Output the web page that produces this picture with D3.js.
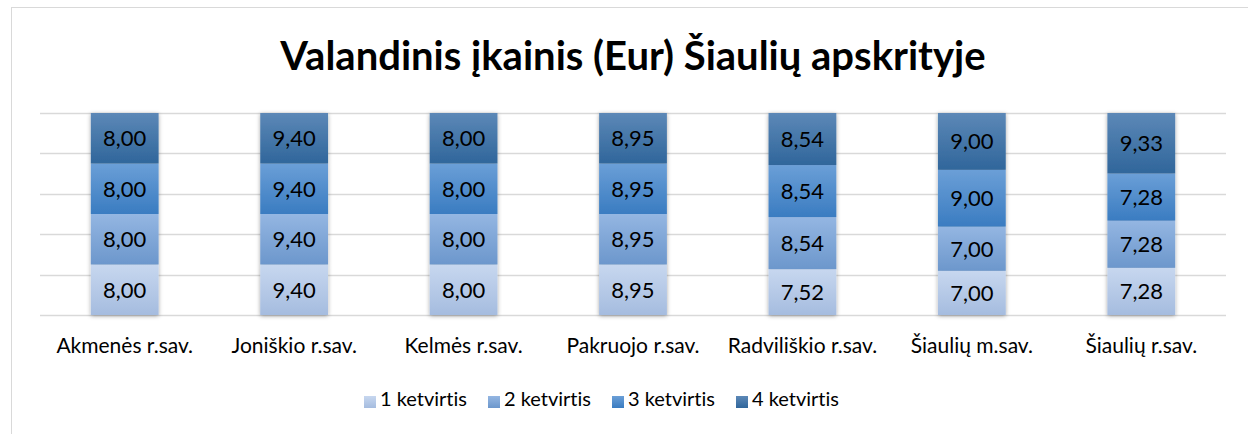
<!DOCTYPE html>
<html>
<head>
<meta charset="utf-8">
<script src="https://cdn.jsdelivr.net/npm/d3@7"></script>
<style>
  body { margin: 0; background: #fff; }
  svg { display: block; font-family: Lato, "Open Sans", sans-serif; font-variant-ligatures: none; }
</style>
</head>
<body>
<div id="chart"></div>
<script>
const title = "Valandinis įkainis (Eur) Šiaulių apskrityje";
const categories = ["Akmenės r.sav.", "Joniškio r.sav.", "Kelmės r.sav.", "Pakruojo r.sav.", "Radviliškio r.sav.", "Šiaulių m.sav.", "Šiaulių r.sav."];
const seriesNames = ["1 ketvirtis", "2 ketvirtis", "3 ketvirtis", "4 ketvirtis"];
const q1 = [8.00, 9.40, 8.00, 8.95, 7.52, 7.00, 7.28];
const q2 = [8.00, 9.40, 8.00, 8.95, 8.54, 7.00, 7.28];
const q3 = [8.00, 9.40, 8.00, 8.95, 8.54, 9.00, 7.28];
const q4 = [8.00, 9.40, 8.00, 8.95, 8.54, 9.00, 9.33];
const yTicks = [0, 0.2, 0.4, 0.6, 0.8, 1];

// gradient stops per series (top, bottom)
const gradients = [
  ["#c7d7ef", "#a5bcdf"],
  ["#94b6e2", "#6c97cc"],
  ["#6b9fd7", "#3a7cc1"],
  ["#5c88b7", "#30669b"],
];

const width = 1248, height = 434;
const margin = { top: 113, right: 22, bottom: 119, left: 40 };

const rows = categories.map((c, i) => ({
  cat: c, s0: q1[i], s1: q2[i], s2: q3[i], s3: q4[i],
}));

const stack = d3.stack()
  .keys(["s0", "s1", "s2", "s3"])
  .offset(d3.stackOffsetExpand);
const series = stack(rows);

const svg = d3.select("#chart").append("svg")
  .attr("width", width).attr("height", height);

const defs = svg.append("defs");
gradients.forEach(([top, bottom], i) => {
  const g = defs.append("linearGradient")
    .attr("id", `grad-${i}`)
    .attr("x1", 0).attr("y1", 0).attr("x2", 0).attr("y2", 1);
  g.append("stop").attr("offset", "0%").attr("stop-color", top);
  g.append("stop").attr("offset", "100%").attr("stop-color", bottom);
});
const shadow = defs.append("filter").attr("id", "shadow")
  .attr("x", "-20%").attr("y", "-10%").attr("width", "140%").attr("height", "120%");
shadow.append("feDropShadow")
  .attr("dx", 0).attr("dy", 1).attr("stdDeviation", 2)
  .attr("flood-color", "#000").attr("flood-opacity", 0.35);

// chart frame
svg.append("rect")
  .attr("x", 11.5).attr("y", 7.5)
  .attr("width", width).attr("height", height)
  .attr("fill", "#fff").attr("stroke", "#d9d9d9").attr("stroke-width", 1);

svg.append("text")
  .attr("x", 633).attr("y", 70)
  .attr("text-anchor", "middle")
  .attr("font-size", 40).attr("font-weight", "bold")
  .attr("fill", "#000")
  .text(title);

const x = d3.scaleBand()
  .domain(categories)
  .range([margin.left, width - margin.right])
  .paddingInner(0.6).paddingOuter(0.3);

const y = d3.scaleLinear()
  .domain([0, 1])
  .range([height - margin.bottom, margin.top]);

// gridlines
svg.append("g")
  .selectAll("line")
  .data(yTicks)
  .join("line")
  .attr("x1", margin.left).attr("x2", width - margin.right)
  .attr("y1", (d) => Math.round(y(d)) + 0.5)
  .attr("y2", (d) => Math.round(y(d)) + 0.5)
  .attr("stroke", "#d9d9d9").attr("stroke-width", 1.5);

// bars
const barG = svg.append("g").attr("filter", "url(#shadow)");
barG.selectAll("g")
  .data(series)
  .join("g")
  .attr("fill", (d, i) => `url(#grad-${i})`)
  .selectAll("rect")
  .data((d) => d)
  .join("rect")
  .attr("x", (d) => x(d.data.cat))
  .attr("width", x.bandwidth())
  .attr("y", (d) => y(d[1]))
  .attr("height", (d) => y(d[0]) - y(d[1]));

// data labels
const fmt = (v) => v.toFixed(2).replace(".", ",");
svg.append("g")
  .selectAll("g")
  .data(series)
  .join("g")
  .selectAll("text")
  .data((s) => s.map((d) => ({ d, key: s.key })))
  .join("text")
  .attr("x", ({ d }) => x(d.data.cat) + x.bandwidth() / 2)
  .attr("y", ({ d }) => (y(d[0]) + y(d[1])) / 2)
  .attr("dy", "0.36em")
  .attr("text-anchor", "middle")
  .attr("font-size", 22)
  .attr("fill", "#000")
  .text(({ d, key }) => fmt(d.data[key]));

// category axis
const xAxis = svg.append("g")
  .attr("transform", `translate(0,${height - margin.bottom})`)
  .call(d3.axisBottom(x).tickSize(0));
xAxis.select(".domain").remove();
xAxis.selectAll("text")
  .attr("y", 38).attr("dy", 0)
  .attr("font-size", 21)
  .attr("font-family", "Lato, 'Open Sans', sans-serif")
  .attr("fill", "#000");

// legend
const legend = svg.append("g").attr("transform", "translate(364,406)");
const item = legend.selectAll("g")
  .data(seriesNames)
  .join("g")
  .attr("transform", (d, i) => `translate(${i * 124},0)`);
item.append("rect")
  .attr("x", 0).attr("y", -10)
  .attr("width", 12).attr("height", 12)
  .attr("fill", (d, i) => `url(#grad-${i})`);
item.append("text")
  .attr("x", 16)
  .attr("font-size", 20)
  .attr("fill", "#000")
  .text((d) => d);
</script>
</body>
</html>
